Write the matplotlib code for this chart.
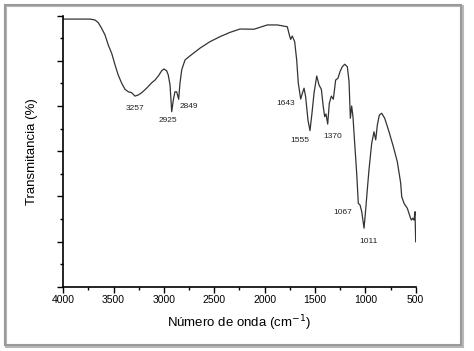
import matplotlib.pyplot as plt
from matplotlib.patches import Rectangle
from matplotlib.ticker import MultipleLocator

plt.rcParams['font.family'] = ['Liberation Sans', 'DejaVu Sans']

# Numero de onda (cm-1) e transmitancia
onda = [4000, 3735, 3685, 3652, 3619, 3586, 3553, 3519, 3486, 3454, 3420,
        3387, 3354, 3321, 3288, 3255, 3221, 3172, 3122, 3089, 3056, 3023,
        3000, 2973, 2957, 2940, 2923, 2907, 2891, 2874, 2854, 2841, 2824,
        2791, 2742, 2643, 2543, 2444, 2345, 2245, 2106, 1974, 1874, 1775,
        1755, 1742, 1726, 1702, 1682, 1666, 1642, 1626, 1609, 1593, 1570,
        1550, 1530, 1510, 1483, 1460, 1437, 1418, 1404, 1391, 1374, 1358,
        1338, 1318, 1295, 1272, 1252, 1229, 1205, 1179, 1162, 1149, 1136,
        1123, 1106, 1086, 1070, 1053, 1036, 1013, 997, 981, 964, 954,
        937, 914, 897, 881, 861, 838, 808, 765, 722, 683, 659, 649,
        639, 616, 583, 556, 543, 530, 517, 507, 500]
trans = [118.5, 118.5, 118.1, 116.9, 114.4, 111.5, 107.0, 103.3, 98.2, 93.7, 90.1,
         87.4, 86.3, 85.9, 84.4, 84.9, 85.9, 87.9, 90.3, 91.5, 93.3, 95.6,
         96.4, 95.6, 93.7, 89.3, 77.5, 82.7, 86.3, 86.3, 83.0, 90.1, 96.0,
         100.4, 102.2, 105.6, 108.5, 110.7, 112.6, 114.1, 114.0, 115.9, 115.9, 115.1,
         111.5, 109.5, 111.0, 108.5, 100.4, 90.1, 83.1, 85.6, 87.9, 84.1, 73.8,
         69.1, 76.8, 85.6, 93.3, 89.3, 87.4, 79.7, 75.3, 76.5, 72.0, 81.2,
         84.4, 83.0, 91.5, 92.3, 95.2, 97.4, 98.5, 97.4, 90.8, 74.6, 80.0,
         75.3, 63.5, 50.2, 36.9, 36.2, 33.2, 25.9, 34.0, 42.8, 51.7, 56.1,
         63.5, 68.6, 65.0, 71.6, 76.0, 76.8, 74.6, 68.6, 62.0, 55.4, 48.7, 45.8,
         39.9, 36.9, 34.7, 31.0, 29.5, 30.3, 29.5, 33.2, 19.9]

picos = ['3257', '2925', '2849', '1643', '1555', '1370', '1067', '1011']
picos_x = [3288, 2965, 2752, 1788, 1649, 1328, 1228, 968]
picos_y = [79.0, 73.8, 79.7, 81.0, 64.8, 66.4, 32.9, 19.9]

fig = plt.figure(figsize=(4.74, 3.51), dpi=100)

# moldura cinzenta com sombra
fig.patches.append(Rectangle((0.0135, 0.0115), 0.9635, 0.972, transform=fig.transFigure,
                             facecolor='none', edgecolor='#b8b8b8', linewidth=1.5, zorder=-2))
fig.patches.append(Rectangle((0.0100, 0.0160), 0.9635, 0.9706, transform=fig.transFigure,
                             facecolor='none', edgecolor='#999999', linewidth=1.5, zorder=-1))

ax = fig.add_axes([0.1335, 0.1832, 0.7435, 0.7721])
ax.patch.set_alpha(0)
ax.plot(onda, trans, color='#333333', linewidth=0.9)

for txt, px, py in zip(picos, picos_x, picos_y):
    ax.text(px, py, txt, fontsize=6, ha='center', va='center', color='#222222')

ax.set_xlim(4000, 500)
ax.set_ylim(0, 120)
ax.xaxis.set_major_locator(MultipleLocator(500))
ax.xaxis.set_minor_locator(MultipleLocator(250))
ax.yaxis.set_major_locator(MultipleLocator(20))
ax.yaxis.set_minor_locator(MultipleLocator(10))
ax.set_yticklabels([])
ax.tick_params(axis='x', which='major', length=4, width=1, labelsize=7.5, pad=2)
ax.tick_params(axis='x', which='minor', length=2.5, width=1)
ax.tick_params(axis='y', which='major', length=4.5, width=1)
ax.tick_params(axis='y', which='minor', length=2.5, width=1)
ax.spines['top'].set_visible(False)
ax.spines['right'].set_visible(False)
ax.spines['left'].set_linewidth(1.2)
ax.spines['bottom'].set_linewidth(1.2)

ax.set_xlabel('Número de onda (cm$^{-1}$)', fontsize=9.5, labelpad=6)
ax.set_ylabel('Transmitancia (%)', fontsize=9.5, labelpad=10)

plt.savefig('out.png', dpi=100)
plt.close()
